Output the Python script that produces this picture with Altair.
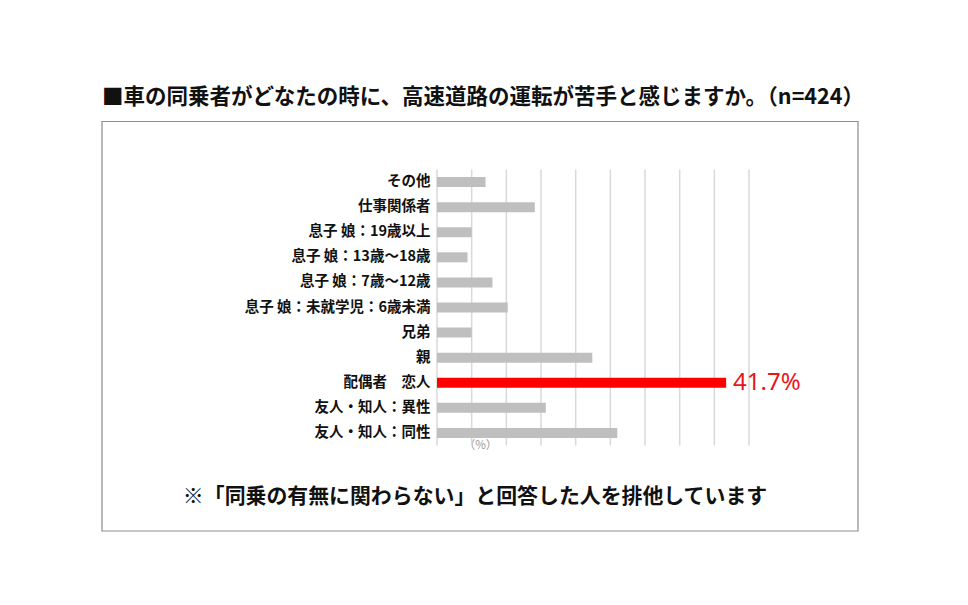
import altair as alt
import pandas as pd

categories = [
    "その他",
    "仕事関係者",
    "息子 娘：19歳以上",
    "息子 娘：13歳～18歳",
    "息子 娘：7歳～12歳",
    "息子 娘：未就学児：6歳未満",
    "兄弟",
    "親",
    "配偶者　恋人",
    "友人・知人：異性",
    "友人・知人：同性",
]
values = [7.0, 14.1, 5.0, 4.4, 8.0, 10.2, 5.0, 22.4, 41.7, 15.7, 26.0]
highlight = ["配偶者　恋人"]
x_ticks = [0, 5, 10, 15, 20, 25, 30, 35, 40, 45]

title_text = "■車の同乗者がどなたの時に、高速道路の運転が苦手と感じますか。（n=424）"
note_text = "※「同乗の有無に関わらない」と回答した人を排他しています"
unit_text = "（%）"

FONT = "Noto Sans CJK JP"

df = pd.DataFrame({"cat": categories, "val": values})
df["hl"] = df["cat"].isin(highlight)
df["label"] = df["val"].map(lambda v: f"{v:.1f}%")
grid_df = pd.DataFrame({"tick": x_ticks})

x_scale = alt.Scale(domain=[0, 45], nice=False)
x_axis = alt.Axis(
    values=x_ticks, labels=False, ticks=False, domain=False, grid=False,
    title=unit_text, titleFont=FONT, titleFontSize=11.5,
    titleFontWeight="normal", titleColor="#9a9a9a",
    titleX=43, titleY=0, titleBaseline="middle", titleAlign="center",
)

y_enc = alt.Y(
    "cat:N",
    sort=categories,
    scale=alt.Scale(paddingInner=0.6, paddingOuter=0.3),
    axis=alt.Axis(
        title=None, ticks=False, domain=False, labelPadding=7,
        labelFont=FONT, labelFontSize=14.5, labelFontWeight="bold",
        labelColor="#111111", grid=False, labelLimit=400,
    ),
)

grid = alt.Chart(grid_df).mark_rule(color="#d9d9d9", strokeWidth=1.5).encode(
    x=alt.X("tick:Q", scale=x_scale, axis=x_axis),
    y=alt.value(0),
    y2=alt.value(276),
)

bars = alt.Chart(df).mark_bar(size=10).encode(
    x=alt.X("val:Q", scale=x_scale, axis=x_axis),
    y=y_enc,
    color=alt.Color(
        "hl:N",
        scale=alt.Scale(domain=[False, True], range=["#bfbfbf", "#ff0000"]),
        legend=None,
    ),
)

value_label = alt.Chart(df).transform_filter(alt.datum.hl).mark_text(
    align="left", baseline="middle", dx=7, font="Noto Sans",
    fontSize=24, color="#e8161b",
).encode(
    x=alt.X("val:Q", scale=x_scale, axis=x_axis),
    y=alt.Y("cat:N", sort=categories),
    text="label:N",
)

box = alt.Chart(pd.DataFrame({"k": [0]})).mark_rect(
    fill="transparent", stroke="#8c8c8c", strokeWidth=1.2,
).encode(
    x=alt.value(-335), x2=alt.value(421), y=alt.value(-48), y2=alt.value(361.5)
)

title = alt.Chart(pd.DataFrame({"t": [title_text]})).mark_text(
    font=FONT, fontSize=21.5, fontWeight="bold", color="#111111",
    align="center", baseline="middle",
).encode(text="t:N", x=alt.value(46), y=alt.value(-71.5))

note = alt.Chart(pd.DataFrame({"t": [note_text]})).mark_text(
    font=FONT, fontSize=20.9, fontWeight="bold", color="#111111",
    align="center", baseline="middle",
).encode(text="t:N", x=alt.value(38), y=alt.value(327.5))

chart = alt.layer(box, grid, bars, value_label, title, note).properties(
    width=312,
    height=276,
    autosize=alt.AutoSizeParams(type="none"),
    padding={"left": 429, "top": 161.5, "right": 200, "bottom": 140},
    background="white",
).configure_view(stroke=None)

chart.save("out.html", embed_options={"renderer": "svg", "actions": False})
